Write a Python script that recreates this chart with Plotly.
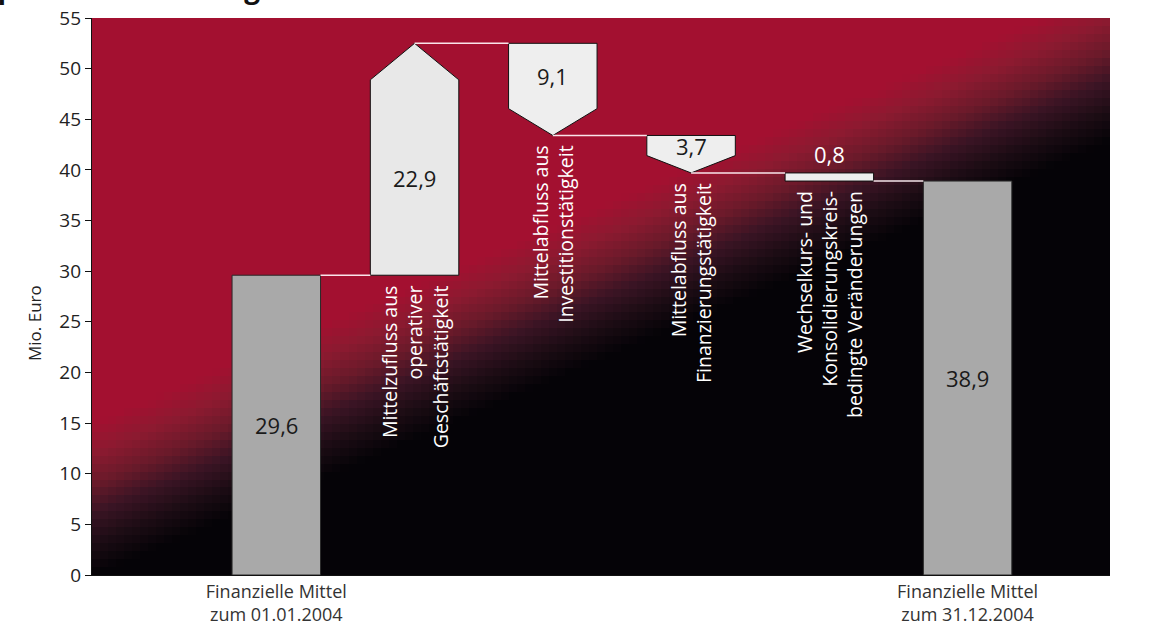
import numpy as np
import plotly.graph_objects as go

# ---------------- data ----------------
categories = [
    "Finanzielle Mittel zum 01.01.2004",
    "Mittelzufluss aus operativer Geschäftstätigkeit",
    "Mittelabfluss aus Investitionstätigkeit",
    "Mittelabfluss aus Finanzierungstätigkeit",
    "Wechselkurs- und Konsolidierungskreisbedingte Veränderungen",
    "Finanzielle Mittel zum 31.12.2004",
]
step_labels = [
    None,
    "Mittelzufluss aus<br>operativer<br>Geschäftstätigkeit",
    "Mittelabfluss aus<br>Investitionstätigkeit",
    "Mittelabfluss aus<br>Finanzierungstätigkeit",
    "Wechselkurs- und<br>Konsolidierungskreis-<br>bedingte Veränderungen",
    None,
]
tick_labels = ["Finanzielle Mittel<br>zum 01.01.2004", "Finanzielle Mittel<br>zum 31.12.2004"]
values = [29.6, 22.9, -9.1, -3.7, -0.8, 38.9]
measures = ["total", "relative", "relative", "relative", "relative", "total"]
value_text = ["29,6", "22,9", "9,1", "3,7", "0,8", "38,9"]
y_title = "Mio. Euro"
title_text = "Kapitalflussrechnung"

# ---------------- style ----------------
FONT = "Open Sans"
RED = "#a31030"
XR = [-1.333, 6.03]
YR = [0, 55]
L, R, T, B = 92, 45, 18, 53
W, H = 1155 - L - R, 628 - T - B
BW = 0.64  # bar width in category units

fig = go.Figure()

# ---------------- background gradient (pixelated) ----------------
nx, ny = 127, 70
px = L + (np.arange(nx) + 0.5) * W / nx
py = T + H - (np.arange(ny) + 0.5) * H / ny
PX, PY = np.meshgrid(px, py)
slope = -0.427
line_y = 500 + slope * (PX - 92)
d = (PY - line_y) / np.sqrt(1 + slope ** 2)
Z = np.clip((d + 70) / 140, 0, 1)
hx = XR[0] + (px - L) / W * (XR[1] - XR[0])
hy = YR[0] + (T + H - py) / H * (YR[1] - YR[0])
fig.add_trace(go.Heatmap(
    x=hx, y=hy, z=Z, zmin=0, zmax=1, zsmooth=False, showscale=False,
    hoverinfo="skip",
    colorscale=[[0, RED], [0.2, "#8c1a30"], [0.4, "#6a1a2a"], [0.6, "#3a1424"],
                [0.8, "#1c0c14"], [1, "#050307"]],
))

# ---------------- waterfall geometry ----------------
def tip_height(v):
    a = abs(v)
    if a < 1:
        return 0.0
    return max(0.0, 1.04 * np.log(a) + 0.35)

running = 0.0
shapes_info = []
for i, (v, m) in enumerate(zip(values, measures)):
    if m == "total":
        running = v
        shapes_info.append(dict(kind="total", lo=0.0, hi=v, end=v))
    else:
        start = running
        end = running + v
        running = end
        shapes_info.append(dict(kind="inc" if v > 0 else "dec", start=start, end=end,
                                tip=tip_height(v), lo=min(start, end), hi=max(start, end)))

for i, s in enumerate(shapes_info):
    x0, x1 = i - BW / 2, i + BW / 2
    if s["kind"] == "total":
        xs = [x0, x1, x1, x0, x0]
        ys = [0, 0, s["hi"], s["hi"], 0]
        fill, lc = "#a9a9a9", "#2a2a2a"
    elif s["kind"] == "inc":
        tp = s["tip"]
        xs = [x0, x1, x1, i, x0, x0]
        ys = [s["start"], s["start"], s["end"] - tp, s["end"], s["end"] - tp, s["start"]]
        fill, lc = "#e8e8e8", "#111111"
    else:
        tp = s["tip"]
        if tp > 0:
            xs = [x0, x1, x1, i, x0, x0]
            ys = [s["start"], s["start"], s["end"] + tp, s["end"], s["end"] + tp, s["start"]]
        else:
            xs = [x0, x1, x1, x0, x0]
            ys = [s["start"], s["start"], s["end"], s["end"], s["start"]]
        fill, lc = "#eeeeee", "#111111"
    fig.add_trace(go.Scatter(x=xs, y=ys, mode="lines", fill="toself", fillcolor=fill,
                             line=dict(color=lc, width=1), hoverinfo="skip", showlegend=False))

# connectors
for i in range(len(shapes_info) - 1):
    s = shapes_info[i]
    level = s["end"]
    has_tip = s["kind"] != "total" and s.get("tip", 0) > 0
    xa = i if has_tip else i + BW / 2
    xb = (i + 1) - BW / 2
    fig.add_trace(go.Scatter(x=[xa, xb], y=[level, level], mode="lines",
                             line=dict(color="rgba(255,240,244,0.95)", width=1.5),
                             hoverinfo="skip", showlegend=False))

annotations = []
# value labels
for i, s in enumerate(shapes_info):
    if s["kind"] == "total":
        yv, col, ya, ys_ = s["hi"] / 2, "#1a1a1a", "middle", 0
    elif s.get("tip", 0) == 0:
        yv, col, ya, ys_ = s["hi"], "white", "bottom", 2
    elif s["kind"] == "inc":
        yv, col, ya, ys_ = (s["start"] + s["end"] - s["tip"]) / 2, "#1a1a1a", "middle", 0
    else:
        yv, col, ya, ys_ = (s["start"] + s["end"] + s["tip"]) / 2, "#1a1a1a", "middle", 0
    annotations.append(dict(x=i, y=yv, xref="x", yref="y", text=value_text[i], showarrow=False,
                            yanchor=ya, yshift=ys_, font=dict(family=FONT, size=22, color=col)))

# rotated step labels
for i, s in enumerate(shapes_info):
    if step_labels[i] is None:
        continue
    annotations.append(dict(x=i, y=s["lo"], xref="x", yref="y", text=step_labels[i],
                            showarrow=False, textangle=-90, xanchor="center", yanchor="top",
                            yshift=-8, align="right",
                            font=dict(family=FONT, size=19.5, color="white")))

# y-axis title
annotations.append(dict(x=(35 - L) / W, y=(T + H - 323) / H, xref="paper", yref="paper",
                        text=y_title, showarrow=False, textangle=-90,
                        xanchor="center", yanchor="middle",
                        font=dict(family=FONT, size=17, color="#222")))

# clipped title (only its descenders fall inside the picture, as in the reference)
annotations.append(dict(x=(-40 - L) / W, y=1 + (T - 8) / H, xref="paper", yref="paper",
                        text="<b>" + title_text + "</b>", showarrow=False, xanchor="left",
                        yanchor="bottom", font=dict(family=FONT, size=28, color="#111")))

fig.update_layout(
    width=1155, height=628,
    margin=dict(l=L, r=R, t=T, b=B, autoexpand=False),
    paper_bgcolor="white", plot_bgcolor="white",
    showlegend=False,
    annotations=annotations,
    font=dict(family=FONT, color="#222"),
)
fig.update_xaxes(range=XR, showgrid=False, zeroline=False, showline=True, linecolor="#111",
                 linewidth=1.2, tickvals=[0, 5], ticktext=tick_labels, ticks="",
                 tickfont=dict(family=FONT, size=18, color="#333"), fixedrange=True,
                 automargin=False)
fig.update_yaxes(range=YR, dtick=5, showgrid=False, zeroline=False, showline=True,
                 linecolor="#111", linewidth=1.2, ticks="outside", ticklen=6, tickcolor="#111",
                 tickfont=dict(family=FONT, size=19, color="#222"), fixedrange=True,
                 automargin=False)

fig.write_html("out.html")
